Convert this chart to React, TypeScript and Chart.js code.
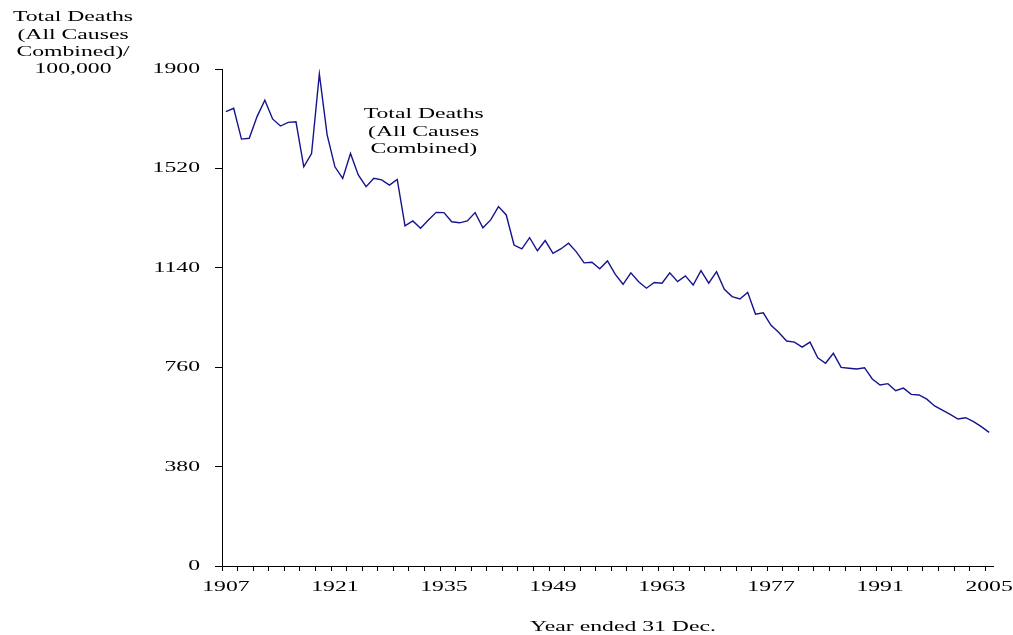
import { useEffect, useRef } from 'react';
import { Chart, registerables } from 'chart.js';

Chart.register(...registerables);

const YEARS = [
  1907, 1908, 1909, 1910, 1911, 1912, 1913, 1914, 1915, 1916,
  1917, 1918, 1919, 1920, 1921, 1922, 1923, 1924, 1925, 1926,
  1927, 1928, 1929, 1930, 1931, 1932, 1933, 1934, 1935, 1936,
  1937, 1938, 1939, 1940, 1941, 1942, 1943, 1944, 1945, 1946,
  1947, 1948, 1949, 1950, 1951, 1952, 1953, 1954, 1955, 1956,
  1957, 1958, 1959, 1960, 1961, 1962, 1963, 1964, 1965, 1966,
  1967, 1968, 1969, 1970, 1971, 1972, 1973, 1974, 1975, 1976,
  1977, 1978, 1979, 1980, 1981, 1982, 1983, 1984, 1985, 1986,
  1987, 1988, 1989, 1990, 1991, 1992, 1993, 1994, 1995, 1996,
  1997, 1998, 1999, 2000, 2001, 2002, 2003, 2004, 2005,
];

const TOTAL_DEATHS = [
  1737, 1750, 1632, 1635, 1718, 1781, 1709, 1682, 1696, 1698,
  1526, 1577, 1881, 1648, 1526, 1482, 1577, 1495, 1450, 1482,
  1476, 1456, 1478, 1300, 1319, 1291, 1323, 1352, 1351, 1316,
  1312, 1319, 1351, 1293, 1323, 1374, 1342, 1227, 1212, 1255,
  1205, 1244, 1195, 1212, 1234, 1201, 1159, 1161, 1136, 1166,
  1115, 1077, 1121, 1087, 1062, 1084, 1081, 1121, 1087, 1109,
  1074, 1129, 1081, 1125, 1058, 1030, 1021, 1046, 963, 968,
  920, 893, 860, 856, 837, 856, 796, 775, 813, 759,
  756, 753, 758, 715, 692, 697, 670, 680, 656, 654,
  638, 612, 596, 580, 562, 567, 552, 533, 511,
];

const X_LABEL_YEARS = [1907, 1921, 1935, 1949, 1963, 1977, 1991, 2005];
const Y_TICKS = [0, 380, 760, 1140, 1520, 1900];
const Y_TITLE = ['Total Deaths', '(All Causes', 'Combined)/', '100,000'];
const SERIES_LABEL = ['Total Deaths', '(All Causes', 'Combined)'];
const X_TITLE = 'Year ended 31 Dec.';

const FONT_FAMILY = "'Liberation Serif', 'Times New Roman', serif";
const FONT_SIZE = 15;
const STRETCH = 1.58;

function stretchContext(ctx: any) {
  if (ctx.__stretched) return;
  ctx.__stretched = true;
  const origFill = ctx.fillText.bind(ctx);
  const origMeasure = ctx.measureText.bind(ctx);
  ctx.fillText = (text: string, x: number, y: number, maxWidth?: number) => {
    ctx.save();
    ctx.translate(x, y);
    ctx.scale(STRETCH, 1);
    if (maxWidth === undefined || maxWidth === null) origFill(text, 0, 0);
    else origFill(text, 0, 0, maxWidth / STRETCH);
    ctx.restore();
  };
  ctx.measureText = (text: string) => {
    const m = origMeasure(text);
    return {
      width: m.width * STRETCH,
      actualBoundingBoxAscent: m.actualBoundingBoxAscent,
      actualBoundingBoxDescent: m.actualBoundingBoxDescent,
      actualBoundingBoxLeft: m.actualBoundingBoxLeft * STRETCH,
      actualBoundingBoxRight: m.actualBoundingBoxRight * STRETCH,
      fontBoundingBoxAscent: m.fontBoundingBoxAscent,
      fontBoundingBoxDescent: m.fontBoundingBoxDescent,
    };
  };
}

const textPlugin = {
  id: 'staticTexts',
  afterDraw(chart: any) {
    const ctx = chart.ctx;
    const xs = chart.scales.x;
    const ys = chart.scales.y;
    ctx.save();
    ctx.fillStyle = '#000';
    ctx.font = `${FONT_SIZE}px ${FONT_FAMILY}`;
    ctx.textAlign = 'center';
    ctx.textBaseline = 'middle';
    // y axis title (top-left)
    Y_TITLE.forEach((line, i) => {
      ctx.fillText(line, 73, 17.5 + i * 17.3);
    });
    // series label
    const ax = xs.getPixelForValue(1932.4);
    const ay = ys.getPixelForValue(1659);
    SERIES_LABEL.forEach((line, i) => {
      ctx.fillText(line, ax, ay + (i - 1) * 17.5);
    });
    // x axis title
    ctx.fillText(X_TITLE, 623, 627);
    ctx.restore();
  },
};

export default function App() {
  const canvasRef = useRef<HTMLCanvasElement | null>(null);

  useEffect(() => {
    const canvas = canvasRef.current;
    if (!canvas) return;
    const ctx = canvas.getContext('2d');
    stretchContext(ctx);

    const chart = new Chart(ctx as any, {
      type: 'line',
      data: {
        datasets: [
          {
            label: 'Total Deaths (All Causes Combined)',
            data: YEARS.map((yr, i) => ({ x: yr, y: TOTAL_DEATHS[i] })),
            borderColor: '#14148c',
            borderWidth: 1.4,
            pointRadius: 0,
            tension: 0,
            fill: false,
          },
        ],
      },
      options: {
        responsive: false,
        animation: false,
        layout: { padding: { top: 69, right: 20, bottom: 0, left: 0 } },
        plugins: {
          legend: { display: false },
          tooltip: { enabled: false },
          title: { display: false },
        },
        scales: {
          x: {
            type: 'linear',
            min: 1906.5,
            max: 2005.5,
            afterBuildTicks: (scale: any) => {
              const vals: number[] = [];
              for (let v = 1906.5; v <= 2005; v += 2) vals.push(v);
              X_LABEL_YEARS.forEach((v) => vals.push(v));
              vals.sort((a, b) => a - b);
              scale.ticks = vals.map((v) => ({ value: v }));
            },
            afterFit: (scale: any) => {
              scale.height = 69;
              scale.paddingLeft = 0;
              scale.paddingRight = 0;
            },
            ticks: {
              autoSkip: false,
              maxRotation: 0,
              minRotation: 0,
              padding: 7,
              color: '#000',
              font: { family: FONT_FAMILY, size: FONT_SIZE },
              callback: (value: any) =>
                X_LABEL_YEARS.includes(Number(value)) ? String(value) : '',
            },
            grid: {
              display: true,
              drawOnChartArea: false,
              drawTicks: true,
              tickLength: 5,
              tickWidth: 1,
              tickColor: (c: any) =>
                c.tick && X_LABEL_YEARS.includes(c.tick.value) ? 'rgba(0,0,0,0)' : '#000',
            },
            border: { display: true, color: '#000', width: 1 },
          },
          y: {
            type: 'linear',
            min: 0,
            max: 1900,
            afterBuildTicks: (scale: any) => {
              scale.ticks = Y_TICKS.map((v) => ({ value: v }));
            },
            afterFit: (scale: any) => {
              scale.width = 222;
              scale.paddingTop = 0;
              scale.paddingBottom = 0;
            },
            ticks: {
              padding: 15,
              color: '#000',
              font: { family: FONT_FAMILY, size: FONT_SIZE },
              callback: (value: any) => String(value),
            },
            grid: {
              display: true,
              drawOnChartArea: false,
              drawTicks: true,
              tickLength: 7,
              tickWidth: 1,
              tickColor: '#000',
            },
            border: { display: true, color: '#000', width: 1 },
          },
        },
      },
      plugins: [textPlugin],
    });

    return () => {
      chart.destroy();
    };
  }, []);

  return (
    <div style={{ position: 'fixed', left: 0, top: 0, width: 1013, height: 635, background: '#fff' }}>
      <canvas ref={canvasRef} width={1013} height={635} style={{ display: 'block', width: 1013, height: 635 }} />
    </div>
  );
}
